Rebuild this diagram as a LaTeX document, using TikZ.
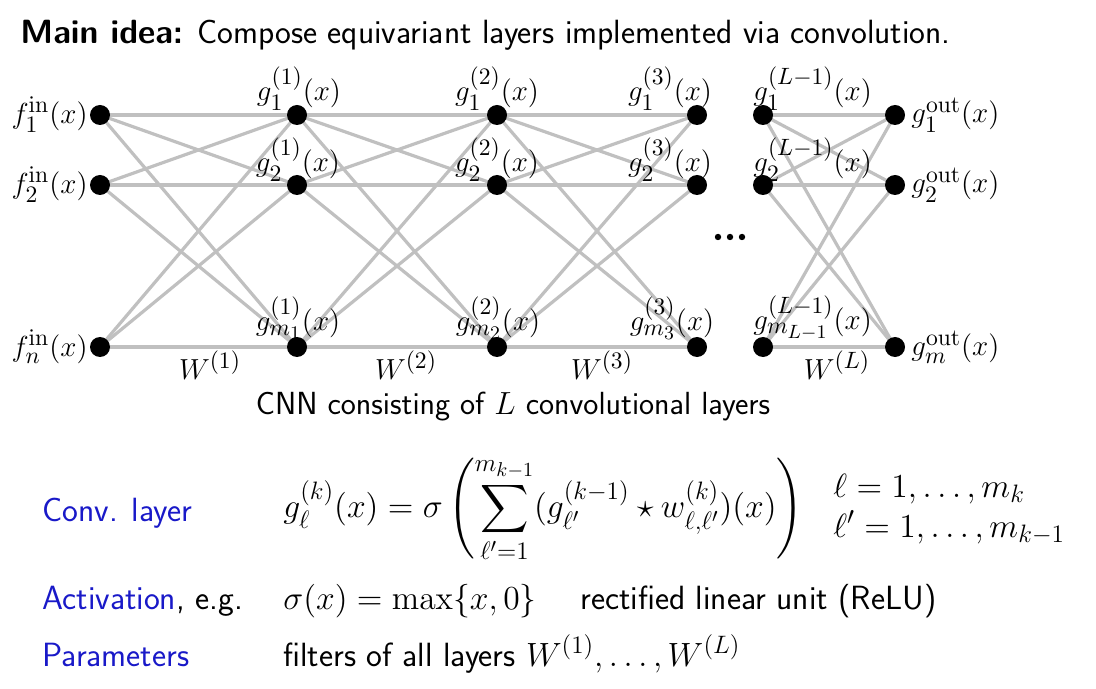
\RequirePackage{fix-cm}
\documentclass[tikz,border=0pt]{standalone}
\usepackage{amsmath,amssymb}
\usetikzlibrary{backgrounds}
\DeclareMathSizes{14.5}{14.5}{11.8}{9.6}
\DeclareMathSizes{16.8}{16.8}{12.6}{10}
\definecolor{struct}{RGB}{25,25,200}
\definecolor{edgegray}{RGB}{192,192,192}
\begin{document}
\begin{tikzpicture}[x=0.5pt,y=-0.5pt,
  font=\fontsize{16.8}{20}\selectfont\sffamily,
  dot/.style={circle,fill=black,inner sep=0pt,minimum size=10pt},
  conn/.style={draw=edgegray,line width=1.6pt},
  lab/.style={inner sep=0pt,font=\fontsize{14.5}{17}\selectfont},
  txt/.style={inner sep=0pt,anchor=base west},
  mth/.style={inner sep=0pt},
  blue text/.style={inner sep=0pt,anchor=base west,text=struct}]
\path[use as bounding box] (0,0) rectangle (1096,689);
% title
\node[txt] (title) at (20,44) {\textbf{Main idea:} Compose equivariant layers implemented via convolution.};
% nodes
\foreach \c/\x in {0/100,1/297,2/497,3/697,4/763,5/895}{
  \node[dot] (n\c a) at (\x,115) {};
  \node[dot] (n\c b) at (\x,185) {};
  \node[dot] (n\c c) at (\x,347) {};
}
% edges
\begin{scope}[on background layer]
\foreach \p/\q in {0/1,1/2,2/3,4/5}{
  \foreach \i in {a,b,c}{
    \foreach \j in {a,b,c}{
      \draw[conn] (n\p\i.center) -- (n\q\j.center);
    }
  }
}
\end{scope}
% dots
\fill (718,237) circle (3.2);
\fill (730,237) circle (3.2);
\fill (742,237) circle (3.2);
% input labels
\node[lab,anchor=east] (la0a) at (88,115) {$f_1^{\mathrm{in}}(x)$};
\node[lab,anchor=east] (la0b) at (88,185) {$f_2^{\mathrm{in}}(x)$};
\node[lab,anchor=east] (la0c) at (88,347) {$f_n^{\mathrm{in}}(x)$};
% layer labels
\node[lab] (la1a) at (299,89) {$g_1^{(1)}(x)$};
\node[lab] (la1b) at (298,160) {$g_2^{(1)}(x)$};
\node[lab] (la1c) at (298,318) {$g_{m_1}^{(1)}(x)$};
\node[lab] (la2a) at (497,89) {$g_1^{(2)}(x)$};
\node[lab] (la2b) at (497,160) {$g_2^{(2)}(x)$};
\node[lab] (la2c) at (498,318) {$g_{m_2}^{(2)}(x)$};
\node[lab] (la3a) at (670,89) {$g_1^{(3)}(x)$};
\node[lab] (la3b) at (670,160) {$g_2^{(3)}(x)$};
\node[lab] (la3c) at (672,318) {$g_{m_3}^{(3)}(x)$};
\node[lab,anchor=west] (la4a) at (753,89) {$g_1^{(L-1)}(x)$};
\node[lab,anchor=west] (la4b) at (753,160) {$g_2^{(L-1)}(x)$};
\node[lab,anchor=west] (la4c) at (753,318) {$g_{m_{L-1}}^{(L-1)}(x)$};
\node[lab,anchor=west] (la5a) at (911,115) {$g_1^{\mathrm{out}}(x)$};
\node[lab,anchor=west] (la5b) at (911,185) {$g_2^{\mathrm{out}}(x)$};
\node[lab,anchor=west] (la5c) at (911,347) {$g_m^{\mathrm{out}}(x)$};
% weight labels
\node[lab] (w1) at (210,365) {$W^{(1)}$};
\node[lab] (w2) at (406,365) {$W^{(2)}$};
\node[lab] (w3) at (602,365) {$W^{(3)}$};
\node[lab] (wL) at (837,365) {$W^{(L)}$};
% caption
\node[inner sep=0pt,anchor=base,font=\fontsize{16}{19}\selectfont\sffamily] (cap) at (513,414) {CNN consisting of $L$ convolutional layers};
% bottom
\node[blue text] (conv) at (42,521) {Conv. layer};
\node[mth,anchor=west] (form) at (283,510) {$\displaystyle g_\ell^{(k)}(x) = \sigma\left(\sum_{\ell'=1}^{m_{k-1}} (g_{\ell'}^{(k-1)} \star w_{\ell,\ell'}^{(k)})(x)\right)$};
\node[mth,anchor=west] (rng) at (833,509) {$\begin{array}{@{}l@{}}\ell = 1,\dots,m_k\\ \ell' = 1,\dots,m_{k-1}\end{array}$};
\node[txt] (act) at (42,609) {\textcolor{struct}{Activation}, e.g.};
\node[txt] (sig) at (283,609) {$\sigma(x) = \max\{x,0\}$};
\node[txt] (relu) at (580,609) {rectified linear unit (ReLU)};
\node[blue text] (par) at (42,666) {Parameters};
\node[txt] (filt) at (283,666) {filters of all layers $W^{(1)},\dots,W^{(L)}$};
\end{tikzpicture}
\end{document}
